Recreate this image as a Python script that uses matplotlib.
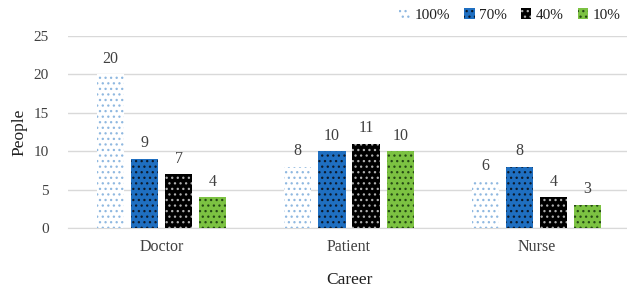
import numpy as np
import matplotlib.pyplot as plt
from matplotlib.patches import Patch

plt.rcParams['font.family'] = ['Liberation Serif', 'DejaVu Serif']
plt.rcParams['hatch.linewidth'] = 0.9

careers = ['Doctor', 'Patient', 'Nurse']
series = ['100%', '70%', '40%', '10%']
vals_100 = [20, 8, 6]
vals_70 = [9, 10, 8]
vals_40 = [7, 11, 4]
vals_10 = [4, 10, 3]

faces = ['white', '#1f6fc1', '#000000', '#7cc242']
dots = ['#8fb8e0', '#0c1a2c', '#b0b0b0', '#254a14']

fig = plt.figure(figsize=(6.27, 2.91), dpi=100)
ax = fig.add_axes([68/627, 1-228/291, 562/627, 192/291])

x = np.arange(len(careers))
w = 0.145
step = 0.182
all_vals = [vals_100, vals_70, vals_40, vals_10]
for i, v in enumerate(all_vals):
    pos = x + (i - 1.5) * step
    ax.bar(pos, v, w, color=faces[i], edgecolor=dots[i], hatch='...', linewidth=0, zorder=3)
    for p, val in zip(pos, v):
        ax.text(p, val + 1.0, str(val), ha='center', va='bottom', fontsize=11.5,
                color='#404040')

ax.set_xlim(-0.5, 2.5)
ax.set_ylim(0, 25)
ax.set_yticks([0, 5, 10, 15, 20, 25])
ax.set_xticks(x)
ax.set_xticklabels(careers, fontsize=11.5, color='#404040')
ax.tick_params(axis='y', labelsize=11, colors='#404040', length=0, pad=14)
ax.tick_params(axis='x', length=0, pad=8)
ax.grid(axis='y', color='#d9d9d9', linewidth=1, zorder=0)
for s in ['top', 'right', 'left']:
    ax.spines[s].set_visible(False)
ax.spines['bottom'].set_color('#d9d9d9')
ax.set_ylabel('People', fontsize=12.5, color='#202020', labelpad=4)
ax.set_xlabel('Career', fontsize=12.5, color='#202020', labelpad=12)

handles = [Patch(facecolor=faces[i], edgecolor=dots[i], hatch='...', linewidth=0) for i in range(4)]
fig.legend(handles, series, loc='upper right', bbox_to_anchor=(1.012, 1.02), ncol=4,
           frameon=False, fontsize=11, handlelength=0.7, handleheight=0.7,
           handletextpad=0.3, columnspacing=0.9, labelcolor='#202020')

fig.savefig('out.png', dpi=100)
